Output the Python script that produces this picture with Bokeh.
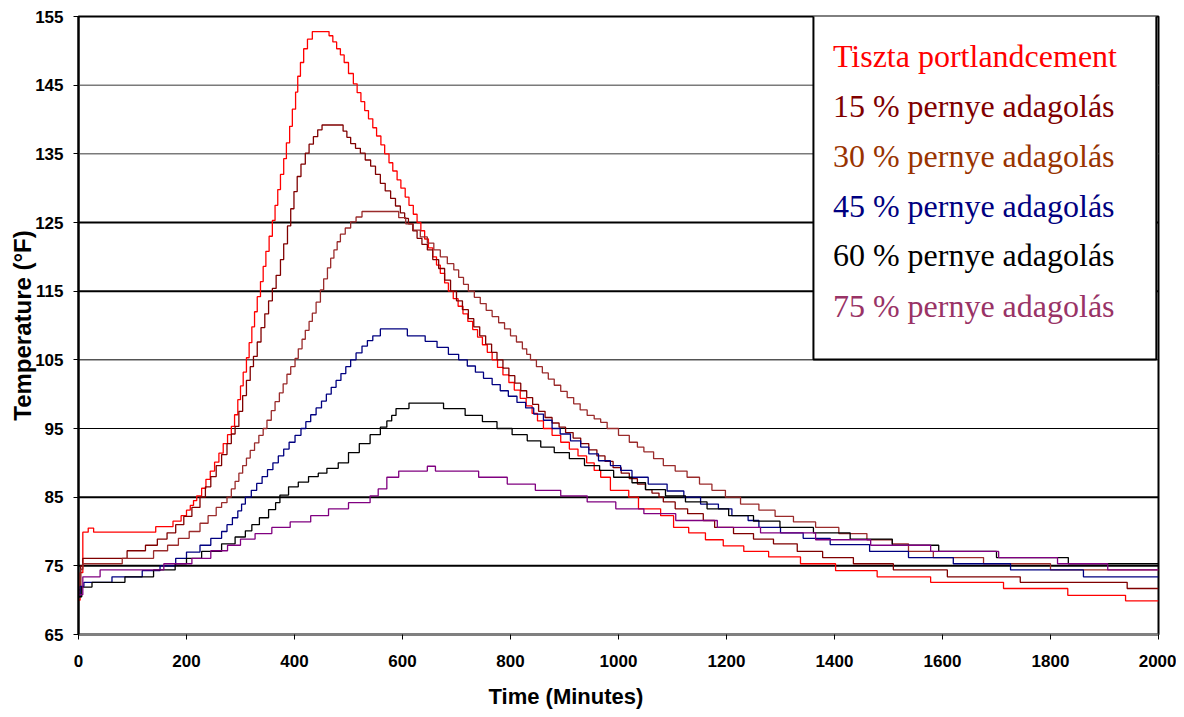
from bokeh.plotting import figure
from bokeh.models import Span, BoxAnnotation, Label, FixedTicker, Title
from bokeh.embed import file_html
from bokeh.resources import INLINE

# ---- data (time in minutes, temperature in °F) ----
tiszta = [(0,70.0),(3,74.0),(8,79.9),(18,80.5),(28,79.9),(143,80.7),(175,81.5),(190,82.3),(200,83.1),(207,83.8),
          (213,84.5),(219,85.2),(228,86.3),(236,87.6),(244,88.8),(252,90.1),(260,91.4),(268,92.8),(276,94.1),
          (283,95.3),(289,97.0),(295,99.2),(300,101.2),(305,103.2),(311,105.3),(316,107.5),(321,109.8),(326,112.0),
          (331,114.2),(337,116.4),(342,118.6),(347,120.8),(353,123.0),(359,125.3),(364,127.5),(369,129.8),
          (374,132.0),(380,134.3),(385,136.6),(391,139.0),(396,141.5),(402,144.0),(406,146.3),(411,148.3),
          (417,150.3),(424,151.7),(433,152.8),(464,152.2),(471,151.3),(478,150.3),(485,149.4),(492,148.3),
          (500,146.7),(509,145.2),(516,143.9),(523,142.6),(530,141.3),(537,140.1),(545,138.8),(552,137.6),
          (560,136.3),(567,135.0),(575,133.7),(582,132.5),(590,131.2),(597,130.0),(605,128.7),(612,127.5),
          (620,126.2),(627,125.0),(634,123.8),(641,122.6),(648,121.3),(656,120.0),(663,118.8),(670,117.6),
          (678,116.2),(685,115.0),(694,113.9),(703,112.8),(712,111.7),(721,110.6),(730,109.4),(739,108.3),
          (748,107.2),(757,106.1),(766,105.0),(776,103.9),(786,102.8),(797,101.7),(807,100.6),(818,99.4),
          (829,98.3),(840,97.2),(850,96.1),(861,95.0),(877,94.0),(893,93.0),(909,92.0),(925,91.0),(941,90.0),
          (955,88.9),(967,87.9),(985,86.0),(1019,85.0),(1037,83.3),(1078,82.3),(1102,80.6),(1130,79.8),
          (1161,78.8),(1194,77.9),(1232,77.1),(1278,76.3),(1337,75.3),(1402,74.3),(1479,73.4),(1578,72.6),
          (1713,71.7),(1832,70.7),(1939,69.9),(2000,69.9)]

pernye15 = [(0,71.5),(4,75.0),(8,76.1),(90,77.2),(124,78.0),(146,78.9),(164,79.8),(180,81.0),(195,82.2),
            (210,83.5),(225,85.0),(235,86.5),(245,88.0),(255,89.6),(265,91.2),(275,92.8),(283,94.2),(290,95.3),
            (297,97.5),(304,99.8),(311,102.0),(318,104.0),(324,105.5),(331,107.6),(338,109.7),(345,111.7),
            (352,113.6),(359,115.4),(366,117.3),(374,119.6),(380,121.9),(387,124.5),(393,127.0),(399,129.5),
            (405,131.7),(412,133.5),(420,135.1),(427,136.4),(435,137.5),(443,138.5),(451,139.2),(490,138.3),
            (497,137.4),(504,136.5),(513,135.8),(522,135.1),(531,134.1),(541,133.2),(550,132.0),(559,130.7),
            (568,129.6),(578,128.5),(587,127.4),(596,126.4),(604,125.6),(611,124.8),(619,123.8),(627,122.7),
            (636,121.8),(646,121.0),(656,119.6),(667,118.3),(678,116.6),(689,115.0),(700,113.6),(711,112.3),
            (722,111.0),(732,109.8),(743,108.5),(754,107.3),(765,106.1),(775,105.0),(786,103.8),(797,102.7),
            (808,101.6),(819,100.5),(830,99.5),(841,98.5),(852,97.5),(864,96.6),(877,95.8),(890,95.2),
            (902,94.4),(916,93.6),(930,92.8),(945,91.9),(960,91.0),(975,90.2),(990,89.3),(1005,88.5),
            (1020,87.7),(1035,86.9),(1050,86.1),(1062,85.6),(1075,85.0),(1083,84.3),(1105,83.3),(1128,82.6),
            (1157,81.6),(1178,80.6),(1213,79.7),(1250,78.9),(1287,78.2),(1331,77.1),(1378,76.2),(1435,75.3),
            (1509,74.4),(1609,73.4),(1744,72.6),(1942,71.7),(2000,71.7)]

pernye30 = [(0,71.0),(4,74.5),(8,75.3),(81,76.1),(139,77.2),(165,78.0),(185,79.0),(205,80.0),(225,81.2),
            (240,82.3),(255,83.5),(265,84.2),(275,85.0),(283,86.2),(290,87.3),(297,88.5),(304,89.6),(311,90.7),
            (318,91.8),(326,92.9),(334,94.0),(342,95.0),(349,96.2),(357,97.6),(364,98.9),(372,100.2),
            (379,101.5),(386,102.9),(393,104.0),(401,105.2),(407,106.6),(414,108.0),(420,109.3),(427,110.6),
            (433,111.8),(440,113.4),(448,115.2),(454,116.8),(461,118.4),(467,119.8),(473,121.0),(479,122.2),
            (485,123.3),(494,124.2),(504,125.1),(514,125.8),(525,126.6),(593,125.7),(606,124.8),(620,123.9),
            (633,122.9),(646,122.0),(658,121.0),(670,120.0),(683,119.0),(695,118.1),(704,117.0),(713,116.0),
            (722,115.0),(733,114.1),(744,113.2),(755,112.2),(766,111.3),(778,110.4),(789,109.5),(800,108.5),
            (811,107.6),(822,106.6),(830,105.8),(837,105.0),(848,104.0),(859,103.1),(870,102.2),(881,101.3),
            (893,100.4),(905,99.5),(917,98.6),(929,97.7),(942,96.9),(955,96.4),(967,95.9),(979,95.0),
            (1000,94.0),(1020,93.0),(1035,92.3),(1047,91.6),(1065,90.6),(1083,89.6),(1105,88.8),(1127,87.9),
            (1150,86.9),(1173,86.0),(1198,85.0),(1226,84.0),(1260,83.1),(1290,82.2),(1324,81.4),(1365,80.6),
            (1408,79.7),(1460,78.8),(1507,78.2),(1537,77.1),(1583,76.2),(1676,75.3),(1800,74.4),(2000,74.4)]

pernye45 = [(0,70.5),(3,72.0),(10,72.6),(62,73.4),(118,74.3),(151,75.0),(180,76.1),(200,77.0),(225,78.0),
            (245,79.0),(265,80.0),(275,81.0),(285,82.0),(295,83.0),(302,84.0),(309,85.0),(320,86.0),(330,87.0),
            (340,88.0),(350,89.0),(360,90.0),(370,91.0),(380,92.0),(390,93.0),(401,94.0),(412,95.0),(421,96.0),
            (430,97.0),(440,98.0),(450,99.0),(459,100.0),(468,101.0),(477,102.0),(486,103.0),(495,104.0),
            (504,105.0),(514,106.0),(525,107.0),(535,107.8),(545,108.5),(559,109.5),(609,108.5),(642,107.7),
            (664,106.8),(685,105.8),(704,105.0),(720,104.1),(735,103.2),(750,102.3),(766,101.4),(781,100.5),
            (796,99.7),(812,98.8),(828,98.0),(843,97.1),(861,96.2),(877,95.0),(892,94.2),(911,93.2),(930,92.3),
            (945,91.3),(963,90.3),(985,89.6),(1004,88.9),(1025,87.9),(1055,86.9),(1090,85.9),(1121,85.0),
            (1152,84.0),(1185,83.3),(1210,82.3),(1240,81.6),(1260,80.6),(1300,79.8),(1342,79.0),(1392,78.1),
            (1465,77.1),(1537,76.2),(1620,75.3),(1726,74.4),(1861,73.4),(2000,73.4)]

pernye60 = [(0,70.5),(6,71.9),(25,72.6),(86,73.4),(139,74.4),(179,75.3),(200,76.1),(228,77.1),(265,78.2),
            (290,79.2),(309,80.1),(321,81.0),(335,82.0),(352,83.2),(365,84.2),(373,85.3),(389,86.5),
            (407,87.2),(426,88.0),(444,88.5),(460,89.2),(481,90.0),(500,91.5),(520,92.8),(540,94.1),
            (559,95.2),(571,96.1),(580,96.9),(588,97.9),(612,98.7),(676,97.9),(716,96.9),(748,96.0),
            (775,95.0),(803,94.1),(831,93.2),(856,92.3),(881,91.5),(909,90.6),(937,89.6),(965,88.9),
            (991,87.9),(1025,87.1),(1050,86.1),(1087,85.2),(1124,84.3),(1164,83.3),(1204,82.3),(1250,81.5),
            (1299,80.6),(1361,79.8),(1429,78.9),(1507,78.0),(1593,77.1),(1700,76.2),(1833,75.3),(2000,75.3)]

pernye75 = [(0,70.8),(8,73.4),(40,74.4),(158,75.3),(210,76.1),(245,77.2),(276,78.0),(300,78.9),(327,79.7),
            (358,80.6),(392,81.4),(430,82.3),(463,83.3),(500,84.2),(540,85.2),(555,86.2),(571,87.9),
            (593,88.8),(646,89.5),(661,88.8),(741,87.9),(794,86.9),(846,86.0),(893,85.2),(942,84.3),
            (995,83.3),(1047,82.6),(1106,81.6),(1183,80.6),(1263,79.8),(1365,78.8),(1467,78.0),(1578,77.1),
            (1704,76.2),(1813,75.3),(1906,74.4),(2000,74.4)]

series_names = ["Tiszta portlandcement", "15 % pernye adagolás", "30 % pernye adagolás",
                "45 % pernye adagolás", "60 % pernye adagolás", "75 % pernye adagolás"]
series_data = [tiszta, pernye15, pernye30, pernye45, pernye60, pernye75]
line_colors = ["#FF0000", "#800000", "#9A2B2B", "#000080", "#000000", "#800080"]
text_colors = ["#FF0000", "#800000", "#993300", "#000080", "#000000", "#993366"]

x_ticks = list(range(0, 2001, 200))
y_ticks = list(range(65, 156, 10))
grid_major_dark = [125, 115, 85, 75]
grid_grey = [145, 135]
grid_thin = [105, 95]

FONT_AX = "'Liberation Sans Narrow', 'Liberation Sans', Arial, sans-serif"

p = figure(frame_width=1080, frame_height=618, x_range=(0, 2000), y_range=(65, 155),
           output_backend="svg", toolbar_location=None,
           min_border_left=78, min_border_right=18, min_border_top=16, min_border_bottom=80,
           background_fill_color="white", border_fill_color="white")

p.xgrid.visible = False
p.ygrid.visible = False
p.outline_line_color = "black"
p.outline_line_width = 2

for v in grid_grey:
    p.add_layout(Span(location=v, dimension="width", line_color="#7a7a7a", line_width=1.5, level="underlay"))
for v in grid_major_dark:
    p.add_layout(Span(location=v, dimension="width", line_color="black", line_width=2, level="underlay"))
for v in grid_thin:
    p.add_layout(Span(location=v, dimension="width", line_color="black", line_width=1, level="underlay"))

for data, col in zip(series_data, line_colors):
    xs = [d[0] for d in data]
    ys = [d[1] for d in data]
    p.step(xs, ys, mode="after", line_color=col, line_width=1.3)

# axes
p.xaxis.ticker = FixedTicker(ticks=x_ticks)
p.yaxis.ticker = FixedTicker(ticks=y_ticks)
for ax in (p.xaxis, p.yaxis):
    ax.minor_tick_line_color = None
    ax.major_tick_out = 5
    ax.major_tick_in = 0
    ax.major_tick_line_color = "black"
    ax.major_label_text_font = FONT_AX
    ax.major_label_text_font_style = "bold"
    ax.major_label_text_font_size = "17px"
    ax.major_label_text_color = "black"
p.xaxis.axis_line_color = "#808080"
p.xaxis.axis_line_width = 2
p.yaxis.axis_line_color = "black"
p.yaxis.axis_line_width = 2
p.xaxis.major_label_standoff = 15
p.yaxis.major_label_standoff = 10

p.yaxis.axis_label = "Temperature (°F)"
p.yaxis.axis_label_text_font = "'Liberation Sans', Arial, sans-serif"
p.yaxis.axis_label_text_font_style = "bold"
p.yaxis.axis_label_text_font_size = "24px"
p.yaxis.axis_label_text_color = "black"
p.yaxis.axis_label_standoff = -4

p.add_layout(Title(text="Time (Minutes)", align="left", offset=410, standoff=24,
                   text_font="'Liberation Sans', Arial, sans-serif", text_font_style="bold",
                   text_font_size="22px", text_color="black"), "below")

# legend box with coloured texts
p.add_layout(BoxAnnotation(left=1361, right=1996, top=155.3, bottom=105.05,
                           fill_color="white", fill_alpha=1.0,
                           line_color="black", line_width=2, line_alpha=1.0))
legend_x = 1397
legend_y = [149.3, 142.0, 134.75, 127.45, 120.2, 112.9]
for name, col, ly in zip(series_names, text_colors, legend_y):
    p.add_layout(Label(x=legend_x, y=ly, text=name, text_color=col,
                       text_font="Liberation Serif", text_font_size="32px",
                       text_baseline="alphabetic", text_align="left"))

open("out.html", "w").write(file_html(p, INLINE))
